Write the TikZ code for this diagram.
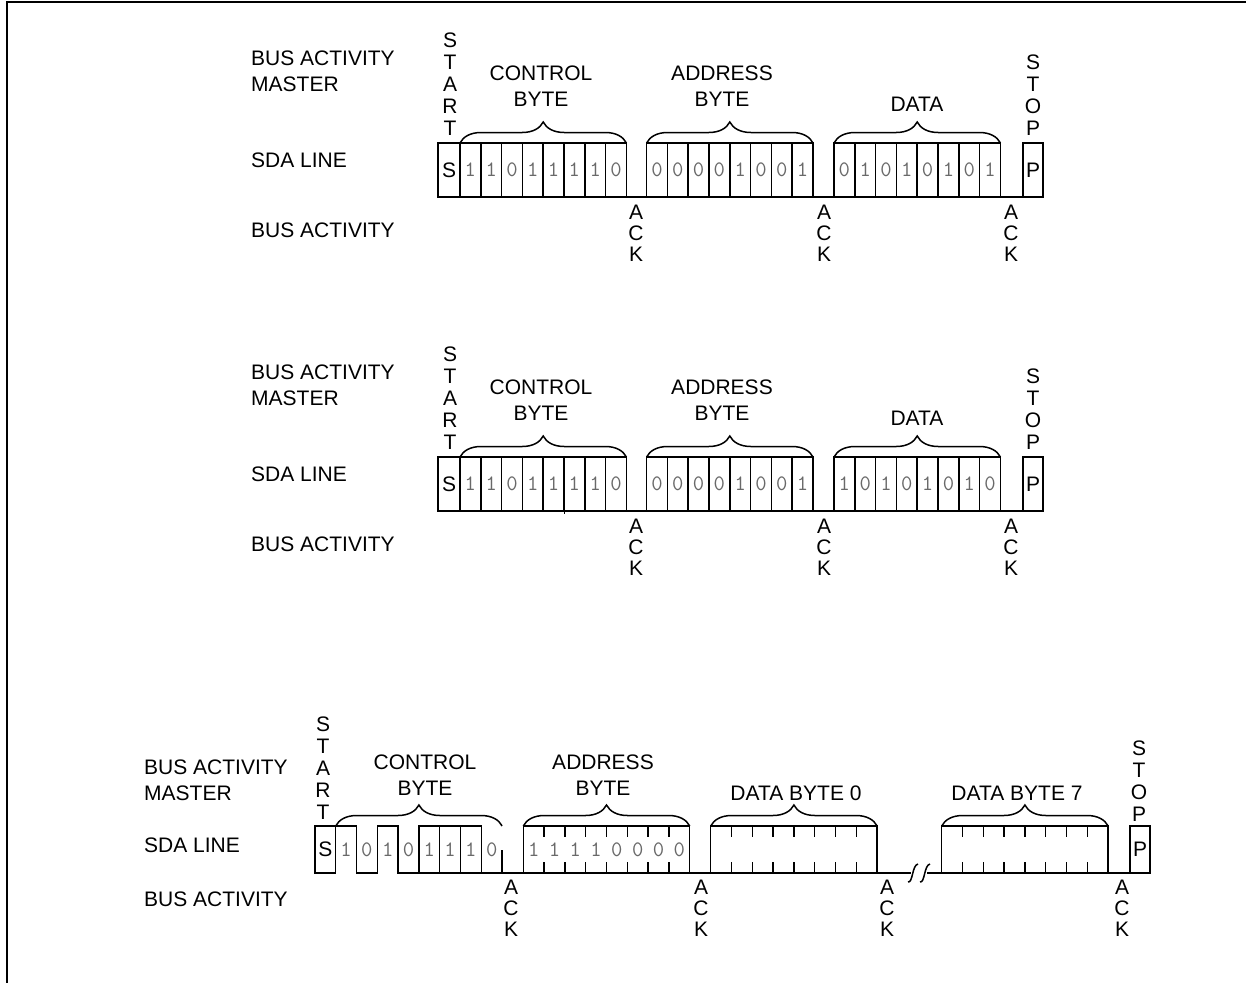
\documentclass[tikz,border=0pt]{standalone}
\usepackage{fontspec}
\setmainfont{Liberation Sans}
\usetikzlibrary{decorations.pathreplacing}
\definecolor{bitgray}{RGB}{105,105,105}
\newcommand\sdarow[3]{%
 \begin{scope}[shift={(0,#1)}]
  % S box
  \draw[wire] (438,143) rectangle (460,197);
  \node[sig] (#2s) at (449,170) {S};
  % control byte
  \foreach \b [count=\i from 0] in {1,1,0,1,1,1,1,0} {
    \draw[wire] ({460+20.8*\i},143) rectangle ({460+20.8*(\i+1)},197);
    \node[bit] (#2c\i) at ({470.4+20.8*\i},170) {\b};
  }
  % address byte
  \foreach \b [count=\i from 0] in {0,0,0,0,1,0,0,1} {
    \draw[wire] ({646.6+20.8*\i},143) rectangle ({646.6+20.8*(\i+1)},197);
    \node[bit] (#2a\i) at ({657+20.8*\i},170) {\b};
  }
  % data byte
  \foreach \b [count=\i from 0] in {#3} {
    \draw[wire] ({834+20.8*\i},143) rectangle ({834+20.8*(\i+1)},197);
    \node[bit] (#2d\i) at ({844.4+20.8*\i},170) {\b};
  }
  % P box
  \draw[wire] (1023,143) rectangle (1043,197);
  \node[sig] (#2p) at (1033,170) {P};
  % bus line
  \draw[wire] (438,197) -- (1043,197);
  % braces
  \draw[bytebrace] (460,143) -- (626.4,143);
  \draw[bytebrace] (646.6,143) -- (813,143);
  \draw[bytebrace] (834,143) -- (1000.4,143);
  % labels
  \node[lbl, anchor=north west, align=left] (#2m) at (251,50.5) {BUS ACTIVITY\\MASTER};
  \node[lbl, anchor=west] (#2sda) at (251,160) {SDA LINE};
  \node[lbl, anchor=west] (#2ba) at (251,230) {BUS ACTIVITY};
  \node[vtext] (#2start) at (450,32.5) {S\\T\\A\\R\\T};
  \node[lbl, anchor=north, align=center] (#2ctl) at (541,65.5) {CONTROL\\BYTE};
  \node[lbl, anchor=north, align=center] (#2adr) at (722,65.5) {ADDRESS\\BYTE};
  \node[lbl] (#2dat) at (917,104) {DATA};
  \node[vtext] (#2stop) at (1033,54.5) {S\\T\\O\\P};
  \node[acktext] (#2ackA) at (636,204.5) {A\\C\\K};
  \node[acktext] (#2ackB) at (824,204.5) {A\\C\\K};
  \node[acktext] (#2ackC) at (1011,204.5) {A\\C\\K};
 \end{scope}}
\begin{document}
\begin{tikzpicture}[x=1pt,y=-1pt,
  wire/.style={line width=1.5pt, line join=miter},
  frameline/.style={line width=2.2pt},
  lbl/.style={inner sep=0pt, font=\fontsize{21}{26}\selectfont},
  vtext/.style={inner sep=0pt, anchor=north, align=center, font=\fontsize{21}{22}\selectfont},
  acktext/.style={inner sep=0pt, anchor=north, align=center, font=\fontsize{21}{21}\selectfont},
  bit/.style={inner sep=0pt, font=\ttfamily\fontsize{22}{22}\selectfont, text=bitgray},
  sig/.style={inner sep=0pt, font=\fontsize{21}{21}\selectfont},
  bytebrace/.style={decorate, decoration={brace, amplitude=21pt}, line width=1.5pt},
]
\useasboundingbox (0,0) rectangle (1246,982);
% frame
\draw[frameline] (7,984) -- (7,2) -- (1248,2);

% rows 1 and 2
\sdarow{0}{ra}{0,1,0,1,0,1,0,1}
\sdarow{314}{rb}{1,0,1,0,1,0,1,0}
\draw[wire] (564.3,511) -- (564.3,514);

% row 3
\draw[wire] (315,826) rectangle (335.7,873);
\node[sig] (rcs) at (325.3,849.5) {S};
\draw[wire] (335.7,826) -- (356.5,826) -- (356.5,873) -- (377.3,873) -- (377.3,826)
  -- (398.1,826) -- (398.1,873) -- (418.9,873) -- (418.9,826) -- (481.3,826) -- (481.3,873);
\draw[wire] (439.7,826) -- (439.7,873);
\draw[wire] (460.5,826) -- (460.5,873);
\draw[wire] (418.9,873) -- (911,873);
\draw[wire] (502.1,850) -- (502.1,873);
\foreach \b [count=\i from 0] in {1,0,1,0,1,1,1,0} {
  \node[bit] (rcc\i) at ({346.1+20.8*\i},850) {\b};
}
% address byte
\draw[wire] (523.3,826) rectangle (689.7,873);
\foreach \i in {1,...,7} {
  \draw[wire] ({523.3+20.8*\i},826) -- ++(0,11);
  \draw[wire] ({523.3+20.8*\i},873) -- ++(0,-11);
}
\foreach \b [count=\i from 0] in {1,1,1,1,0,0,0,0} {
  \node[bit] (rca\i) at ({533.7+20.8*\i},850) {\b};
}
% data byte 0
\draw[wire] (710.7,826) rectangle (877.1,873);
\foreach \i in {1,...,7} {
  \draw[wire] ({710.7+20.8*\i},826) -- ++(0,11);
  \draw[wire] ({710.7+20.8*\i},873) -- ++(0,-11);
}
% break marks
\draw[wire] (908,882) .. controls (913,883) and (912,865) .. (918,864);
\draw[wire] (920,882) .. controls (925,883) and (924,865) .. (930,864);
\draw[wire] (927,873) -- (1150,873);
% data byte 7
\draw[wire] (941.7,826) rectangle (1108.1,873);
\foreach \i in {1,...,7} {
  \draw[wire] ({941.7+20.8*\i},826) -- ++(0,11);
  \draw[wire] ({941.7+20.8*\i},873) -- ++(0,-11);
}
% P box
\draw[wire] (1130,826) rectangle (1150,873);
\node[sig] (rcp) at (1140,849.5) {P};
% braces
\draw[bytebrace] (335.7,826) -- (502.1,826);
\draw[bytebrace] (523.3,826) -- (689.7,826);
\draw[bytebrace] (710.7,826) -- (877.1,826);
\draw[bytebrace] (941.7,826) -- (1108.1,826);
% labels
\node[lbl, anchor=north west, align=left] (rcm) at (144,759.5) {BUS ACTIVITY\\MASTER};
\node[lbl, anchor=west] (rcsda) at (144,845) {SDA LINE};
\node[lbl, anchor=west] (rcba) at (144,899) {BUS ACTIVITY};
\node[vtext] (rcstart) at (323,716.5) {S\\T\\A\\R\\T};
\node[lbl, anchor=north, align=center] (rcctl) at (425,754.5) {CONTROL\\BYTE};
\node[lbl, anchor=north, align=center] (rcadr) at (603,754.5) {ADDRESS\\BYTE};
\node[lbl] (rcd0) at (796,793) {DATA BYTE 0};
\node[lbl] (rcd7) at (1017,793) {DATA BYTE 7};
\node[vtext] (rcstop) at (1139,740.5) {S\\T\\O\\P};
\node[acktext] (rcackA) at (511,879.5) {A\\C\\K};
\node[acktext] (rcackB) at (701,879.5) {A\\C\\K};
\node[acktext] (rcackC) at (887,879.5) {A\\C\\K};
\node[acktext] (rcackD) at (1122,879.5) {A\\C\\K};
\end{tikzpicture}
\end{document}
